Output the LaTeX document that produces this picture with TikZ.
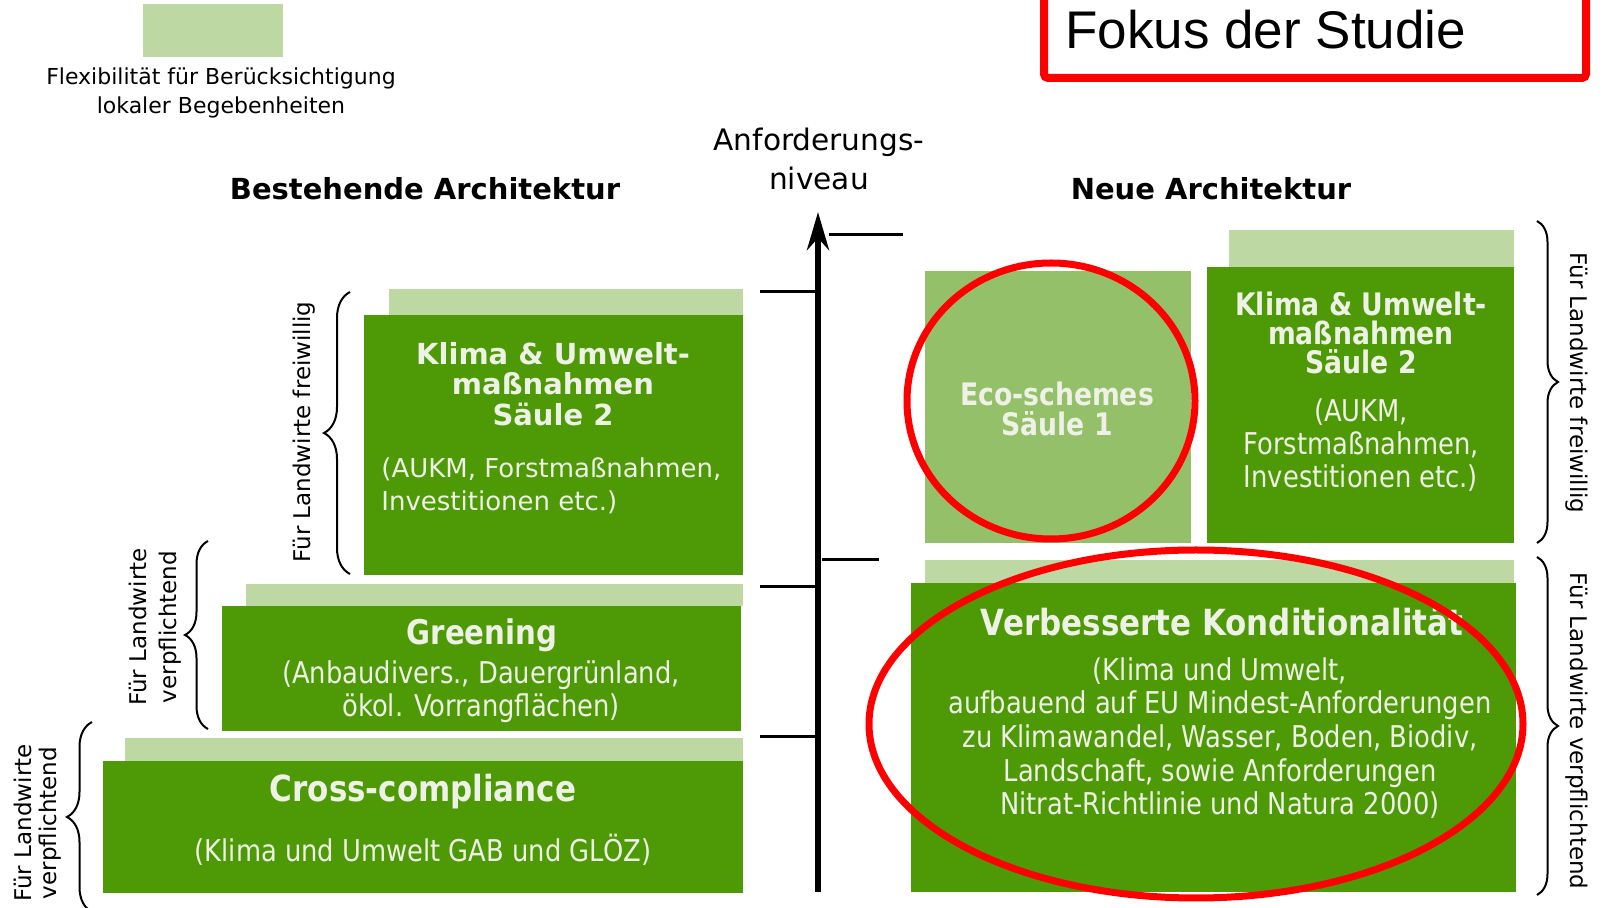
\documentclass[tikz,border=0pt]{standalone}
\usepackage{fontspec}
\setmainfont{DejaVu Sans}
\newfontfamily\narrowfont[FakeStretch=0.86]{DejaVu Sans}
\newfontfamily\focusfont{Liberation Sans}
\usepackage{xcolor}
\usepackage{tikz}
\usetikzlibrary{arrows.meta,decorations.pathreplacing}

\definecolor{pillargreen}{RGB}{78,154,6}
\definecolor{flexgreen}{RGB}{189,216,162}
\definecolor{ecogreen}{RGB}{149,192,106}
\definecolor{pillartext}{RGB}{238,241,230}
\definecolor{focusred}{RGB}{255,0,0}

\tikzset{
  boxtitle/.style={text=pillartext,align=center,inner sep=0pt},
  boxtext/.style={text=pillartext,align=center,inner sep=0pt},
  levelbrace/.style={line width=1pt,decorate,decoration={brace,amplitude=#1}},
  levelmark/.style={line width=1.5pt},
  focusline/.style={focusred,line width=3.5pt}
}

\begin{document}
\begin{tikzpicture}[x=0.5pt,y=-0.5pt]
\useasboundingbox (0,0) rectangle (1603,908);

% Legend
\fill[flexgreen] (143,4) rectangle (283,57);
\node[font=\fontsize{11}{14.5}\selectfont,align=center] (legend) at (221,93) {Flexibilität für Berücksichtigung\\lokaler Begebenheiten};

% Focus frame
\draw[focusred,line width=4pt,rounded corners=2pt] (1044,-20) rectangle (1586,78);
\node[font=\focusfont\fontsize{26.5}{30}\selectfont,anchor=base west,inner sep=0pt] (focus) at (1065,49) {Fokus der Studie};

% Headings
\node[font=\bfseries\fontsize{14.5}{17}\selectfont] (oldarch) at (425,189) {Bestehende Architektur};
\node[font=\bfseries\fontsize{14.5}{17}\selectfont] (newarch) at (1211,189) {Neue Architektur};
\node[font=\fontsize{14.8}{19.5}\selectfont,align=center] (level) at (819,159) {Anforderungs-\\niveau};

% Axis
\coordinate (axbot) at (818,892);
\coordinate (axtop) at (818,212);
\draw[line width=3pt,-{Stealth[length=19pt,width=11pt,inset=6pt]}] (axbot) -- (axtop);

% Level marks
\draw[levelmark] (760,292) -- (815,292);
\draw[levelmark] (760,587) -- (815,587);
\draw[levelmark] (760,737) -- (815,737);
\draw[levelmark] (829,235) -- (903,235);
\draw[levelmark] (822,560) -- (879,560);

% Existing: Klima & Umwelt (Saeule 2)
\fill[flexgreen] (389,289) rectangle (743,315);
\fill[pillargreen] (364,315) rectangle (743,575);
\node[boxtitle,font=\bfseries\fontsize{14.5}{15.25}\selectfont] (klimaL) at (553,384) {Klima \& Umwelt-\\maßnahmen\\Säule 2};
\node[boxtext,align=left,anchor=west,font=\fontsize{13}{16.8}\selectfont] (klimaLsub) at (381,486) {(AUKM, Forstmaßnahmen,\\Investitionen etc.)};

% Existing: Greening
\fill[flexgreen] (246,584) rectangle (743,606);
\fill[pillargreen] (222,606) rectangle (741,731);
\node[boxtitle,font=\narrowfont\bfseries\fontsize{17}{20}\selectfont] (greening) at (482,635) {Greening};
\node[boxtext,font=\narrowfont\fontsize{15}{16.6}\selectfont] (greeningsub) at (481,692) {(Anbaudivers., Dauergrünland,\\ökol. Vorrangflächen)};

% Existing: Cross-compliance
\fill[flexgreen] (125,738) rectangle (743,761);
\fill[pillargreen] (103,761) rectangle (743,893);
\node[boxtitle,font=\narrowfont\bfseries\fontsize{18}{20}\selectfont] (cross) at (423,792) {Cross-compliance};
\node[boxtext,font=\narrowfont\fontsize{15}{16.6}\selectfont] (crosssub) at (423,850) {(Klima und Umwelt GAB und GLÖZ)};

% New: Eco-schemes (Saeule 1)
\fill[ecogreen] (925,271) rectangle (1191,543);
\node[boxtitle,font=\narrowfont\bfseries\fontsize{15.5}{14.6}\selectfont] (eco) at (1057,409) {Eco-schemes\\Säule 1};

% New: Klima & Umwelt (Saeule 2)
\fill[flexgreen] (1229,230) rectangle (1514,267);
\fill[pillargreen] (1207,267) rectangle (1514,543);
\node[boxtitle,font=\narrowfont\bfseries\fontsize{15.5}{14.6}\selectfont] (klimaR) at (1361,333) {Klima \& Umwelt-\\maßnahmen\\Säule 2};
\node[boxtext,font=\narrowfont\fontsize{15}{16.7}\selectfont] (klimaRsub) at (1361,445) {(AUKM,\\Forstmaßnahmen,\\Investitionen etc.)};

% New: Verbesserte Konditionalitaet
\fill[flexgreen] (925,560) rectangle (1514,583);
\fill[pillargreen] (911,583) rectangle (1516,892);
\node[boxtitle,font=\narrowfont\bfseries\fontsize{18}{20}\selectfont] (kond) at (1222,622) {Verbesserte Konditionalität};
\node[boxtext,font=\narrowfont\fontsize{15}{16.8}\selectfont] (kondsub) at (1220,738) {(Klima und Umwelt,\\aufbauend auf EU Mindest-Anforderungen\\zu Klimawandel, Wasser, Boden, Biodiv,\\Landschaft, sowie Anforderungen\\Nitrat-Richtlinie und Natura 2000)};

% Focus rings
\draw[focusline] (1051,401) ellipse [x radius=72pt,y radius=69pt];
\draw[focusline] (1196,724) ellipse [x radius=163.5pt,y radius=87pt];

% Braces, left
\draw[levelbrace=13pt] (350,574) -- (350,292);
\node[rotate=90,font=\fontsize{11.5}{14}\selectfont] (volL) at (304,432) {Für Landwirte freiwillig};
\draw[levelbrace=11.5pt] (208,729) -- (208,541);
\node[rotate=90,align=center,font=\fontsize{11.5}{15}\selectfont] (dutyG) at (155,627) {Für Landwirte\\verpflichtend};
\draw[levelbrace=12.5pt] (92,912) -- (92,722);
\node[rotate=90,align=center,font=\fontsize{11.5}{12.5}\selectfont] (dutyC) at (38,823) {Für Landwirte\\verpflichtend};

% Braces, right
\draw[levelbrace=10.5pt] (1537,221) -- (1537,543);
\node[rotate=-90,font=\fontsize{11.5}{14}\selectfont] (volR) at (1577,383) {Für Landwirte freiwillig};
\draw[levelbrace=10.5pt] (1537,557) -- (1537,895);
\node[rotate=-90,font=\fontsize{11.5}{14}\selectfont] (dutyR) at (1577,731) {Für Landwirte verpflichtend};
\end{tikzpicture}
\end{document}
